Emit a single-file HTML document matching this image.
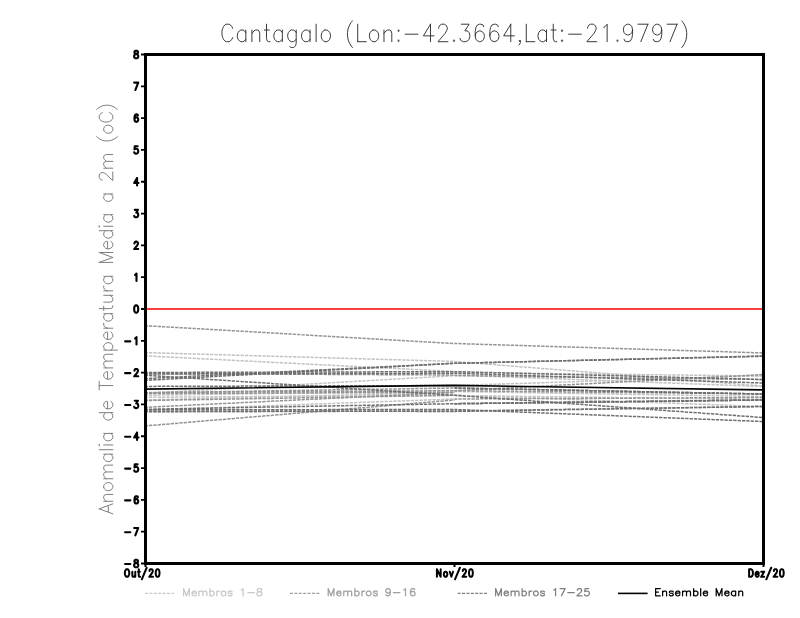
<!DOCTYPE html><html><head><meta charset="utf-8"><style>html,body{margin:0;padding:0;background:#fff;}svg{display:block}</style></head><body>
<svg width="800" height="618" viewBox="0 0 800 618">
<rect width="800" height="618" fill="#fff"/>
<g fill="none" stroke-width="1.5" stroke-dasharray="3.3 1.066">
<path d="M145.5 352.6 L454.5 361.5" stroke="#c2c2c2" stroke-dashoffset="0.92"/>
<path d="M145.5 355.9 L454.5 371.5" stroke="#c2c2c2" stroke-dashoffset="0.92"/>
<path d="M145.5 393.4 L454.5 375.6" stroke="#c2c2c2" stroke-dashoffset="0.92"/>
<path d="M145.5 395.3 L454.5 390.7" stroke="#c2c2c2" stroke-dashoffset="0.92"/>
<path d="M145.5 397.3 L454.5 395.3" stroke="#c2c2c2" stroke-dashoffset="0.92"/>
<path d="M145.5 410.2 L454.5 399.0" stroke="#c2c2c2" stroke-dashoffset="0.92"/>
<path d="M145.5 400.0 L454.5 392.4" stroke="#c2c2c2" stroke-dashoffset="0.92"/>
<path d="M454.5 361.5 L762.5 386.0" stroke="#c2c2c2" stroke-dashoffset="0.5"/>
<path d="M454.5 375.0 L762.5 386.5" stroke="#c2c2c2" stroke-dashoffset="0.5"/>
<path d="M454.5 385.5 L762.5 375.7" stroke="#c2c2c2" stroke-dashoffset="0.5"/>
<path d="M454.5 372.5 L762.5 376.0" stroke="#c2c2c2" stroke-dashoffset="0.5"/>
<path d="M454.5 391.5 L762.5 396.5" stroke="#c2c2c2" stroke-dashoffset="0.5"/>
<path d="M454.5 395.3 L762.5 406.5" stroke="#c2c2c2" stroke-dashoffset="0.5"/>
<path d="M454.5 395.5 L762.5 399.5" stroke="#c2c2c2" stroke-dashoffset="0.5"/>
<path d="M145.5 325.7 L454.5 343.5" stroke="#939393" stroke-dashoffset="0.92"/>
<path d="M145.5 373.5 L454.5 375.0" stroke="#939393" stroke-dashoffset="0.92"/>
<path d="M145.5 392.5 L454.5 390.7" stroke="#939393" stroke-dashoffset="0.92"/>
<path d="M145.5 393.5 L454.5 392.4" stroke="#939393" stroke-dashoffset="0.92"/>
<path d="M145.5 400.5 L454.5 395.3" stroke="#939393" stroke-dashoffset="0.92"/>
<path d="M145.5 407.3 L454.5 392.4" stroke="#939393" stroke-dashoffset="0.92"/>
<path d="M145.5 425.9 L454.5 400.0" stroke="#939393" stroke-dashoffset="0.92"/>
<path d="M145.5 412.0 L454.5 411.0" stroke="#939393" stroke-dashoffset="0.92"/>
<path d="M145.5 392.8 L454.5 388.0" stroke="#939393" stroke-dashoffset="0.92"/>
<path d="M454.5 343.5 L762.5 352.9" stroke="#939393" stroke-dashoffset="0.5"/>
<path d="M454.5 390.7 L762.5 374.6" stroke="#939393" stroke-dashoffset="0.5"/>
<path d="M454.5 390.7 L762.5 394.0" stroke="#939393" stroke-dashoffset="0.5"/>
<path d="M454.5 399.0 L762.5 397.5" stroke="#939393" stroke-dashoffset="0.5"/>
<path d="M454.5 375.6 L762.5 379.5" stroke="#939393" stroke-dashoffset="0.5"/>
<path d="M454.5 411.0 L762.5 406.5" stroke="#939393" stroke-dashoffset="0.5"/>
<path d="M454.5 403.7 L762.5 400.0" stroke="#939393" stroke-dashoffset="0.5"/>
<path d="M145.5 378.6 L454.5 363.3" stroke="#6e6e6e" stroke-dashoffset="0.92"/>
<path d="M145.5 380.3 L454.5 363.3" stroke="#6e6e6e" stroke-dashoffset="0.92"/>
<path d="M145.5 372.5 L454.5 371.65" stroke="#6e6e6e" stroke-dashoffset="0.92"/>
<path d="M145.5 374.0 L454.5 373.3" stroke="#6e6e6e" stroke-dashoffset="0.92"/>
<path d="M145.5 375.3 L454.5 395.3" stroke="#6e6e6e" stroke-dashoffset="0.92"/>
<path d="M145.5 386.4 L454.5 385.5" stroke="#6e6e6e" stroke-dashoffset="0.92"/>
<path d="M145.5 409.3 L454.5 403.7" stroke="#6e6e6e" stroke-dashoffset="0.92"/>
<path d="M145.5 409.8 L454.5 409.5" stroke="#6e6e6e" stroke-dashoffset="0.92"/>
<path d="M145.5 411.2 L454.5 411.4" stroke="#6e6e6e" stroke-dashoffset="0.92"/>
<path d="M454.5 363.3 L762.5 356.0" stroke="#6e6e6e" stroke-dashoffset="0.5"/>
<path d="M454.5 363.3 L762.5 356.3" stroke="#6e6e6e" stroke-dashoffset="0.5"/>
<path d="M454.5 371.65 L762.5 379.5" stroke="#6e6e6e" stroke-dashoffset="0.5"/>
<path d="M454.5 373.3 L762.5 383.0" stroke="#6e6e6e" stroke-dashoffset="0.5"/>
<path d="M454.5 395.3 L762.5 417.5" stroke="#6e6e6e" stroke-dashoffset="0.5"/>
<path d="M454.5 409.5 L762.5 421.5" stroke="#6e6e6e" stroke-dashoffset="0.5"/>
<path d="M454.5 411.4 L762.5 406.5" stroke="#6e6e6e" stroke-dashoffset="0.5"/>
<path d="M454.5 403.7 L762.5 400.0" stroke="#6e6e6e" stroke-dashoffset="0.5"/>
<path d="M454.5 388.0 L762.5 394.0" stroke="#6e6e6e" stroke-dashoffset="0.5"/>
<path d="M454.5 403.7 L762.5 400.0" stroke="#6e6e6e" stroke-dashoffset="0.5"/>
<path d="M454.5 388.0 L762.5 394.0" stroke="#6e6e6e" stroke-dashoffset="0.5"/>
</g>
<path d="M146 309 L762 309" stroke="#fa3c3c" stroke-width="2" fill="none"/>
<path d="M145.5 389.1 L454.5 385.4 L762.5 389.9" stroke="#000" stroke-width="1.6" fill="none"/>
<rect x="145.5" y="54.5" width="618" height="509" fill="none" stroke="#000" stroke-width="3"/>
<path d="M141 54.5 L146 54.5 M141 86.31 L146 86.31 M141 118.12 L146 118.12 M141 149.94 L146 149.94 M141 181.75 L146 181.75 M141 213.56 L146 213.56 M141 245.38 L146 245.38 M141 277.19 L146 277.19 M141 309 L146 309 M141 340.81 L146 340.81 M141 372.62 L146 372.62 M141 404.44 L146 404.44 M141 436.25 L146 436.25 M141 468.06 L146 468.06 M141 499.88 L146 499.88 M141 531.69 L146 531.69 M141 563.5 L146 563.5" stroke="#000" stroke-width="1.8" fill="none"/>
<path d="M145.5 563 L145.5 567 M454.5 563 L454.5 567 M763.5 563 L763.5 567" stroke="#000" stroke-width="2" fill="none"/>
<path d="M232.65 28.37 L231.94 26.7 L230.52 25.03 L229.1 24.2 L226.26 24.2 L224.84 25.03 L223.42 26.7 L222.71 28.37 L222 30.87 L222 35.03 L222.71 37.53 L223.42 39.2 L224.84 40.87 L226.26 41.7 L229.1 41.7 L230.52 40.87 L231.94 39.2 L232.65 37.53 M245.84 30.03 L245.84 41.7 M245.84 32.53 L244.42 30.87 L243 30.03 L240.87 30.03 L239.45 30.87 L238.03 32.53 L237.32 35.03 L237.32 36.7 L238.03 39.2 L239.45 40.87 L240.87 41.7 L243 41.7 L244.42 40.87 L245.84 39.2 M251.9 30.03 L251.9 41.7 M251.9 33.37 L254.03 30.87 L255.45 30.03 L257.58 30.03 L259 30.87 L259.71 33.37 L259.71 41.7 M266.47 24.2 L266.47 38.37 L267.18 40.87 L268.6 41.7 L270.02 41.7 M264.34 30.03 L269.31 30.03 M282.33 30.03 L282.33 41.7 M282.33 32.53 L280.91 30.87 L279.49 30.03 L277.36 30.03 L275.94 30.87 L274.52 32.53 L273.81 35.03 L273.81 36.7 L274.52 39.2 L275.94 40.87 L277.36 41.7 L279.49 41.7 L280.91 40.87 L282.33 39.2 M296.2 30.03 L296.2 43.37 L295.49 45.87 L294.78 46.7 L293.36 47.53 L291.23 47.53 L289.81 46.7 M296.2 32.53 L294.78 30.87 L293.36 30.03 L291.23 30.03 L289.81 30.87 L288.39 32.53 L287.68 35.03 L287.68 36.7 L288.39 39.2 L289.81 40.87 L291.23 41.7 L293.36 41.7 L294.78 40.87 L296.2 39.2 M310.06 30.03 L310.06 41.7 M310.06 32.53 L308.64 30.87 L307.22 30.03 L305.09 30.03 L303.67 30.87 L302.25 32.53 L301.54 35.03 L301.54 36.7 L302.25 39.2 L303.67 40.87 L305.09 41.7 L307.22 41.7 L308.64 40.87 L310.06 39.2 M316.12 24.2 L316.12 41.7 M324.79 30.03 L323.37 30.87 L321.95 32.53 L321.24 35.03 L321.24 36.7 L321.95 39.2 L323.37 40.87 L324.79 41.7 L326.92 41.7 L328.34 40.87 L329.76 39.2 L330.47 36.7 L330.47 35.03 L329.76 32.53 L328.34 30.87 L326.92 30.03 L324.79 30.03 M352.46 20.87 L351.04 22.53 L349.62 25.03 L348.2 28.37 L347.49 32.53 L347.49 35.87 L348.2 40.03 L349.62 43.37 L351.04 45.87 L352.46 47.53 M357.71 24.2 L357.71 41.7 M357.71 41.7 L366.23 41.7 M372.96 30.03 L371.54 30.87 L370.12 32.53 L369.41 35.03 L369.41 36.7 L370.12 39.2 L371.54 40.87 L372.96 41.7 L375.09 41.7 L376.51 40.87 L377.93 39.2 L378.64 36.7 L378.64 35.03 L377.93 32.53 L376.51 30.87 L375.09 30.03 L372.96 30.03 M383.98 30.03 L383.98 41.7 M383.98 33.37 L386.11 30.87 L387.53 30.03 L389.66 30.03 L391.08 30.87 L391.79 33.37 L391.79 41.7 M398.56 30.03 L397.85 30.87 L398.56 31.7 L399.27 30.87 L398.56 30.03 M398.56 40.03 L397.85 40.87 L398.56 41.7 L399.27 40.87 L398.56 40.03 M405.14 34.2 L417.92 34.2 M430.51 24.2 L423.41 35.87 L434.06 35.87 M430.51 24.2 L430.51 41.7 M438.71 28.37 L438.71 27.53 L439.42 25.87 L440.13 25.03 L441.55 24.2 L444.39 24.2 L445.81 25.03 L446.52 25.87 L447.23 27.53 L447.23 29.2 L446.52 30.87 L445.1 33.37 L438 41.7 L447.94 41.7 M454.01 40.03 L453.3 40.87 L454.01 41.7 L454.72 40.87 L454.01 40.03 M461.31 24.2 L469.12 24.2 L464.86 30.87 L466.99 30.87 L468.41 31.7 L469.12 32.53 L469.83 35.03 L469.83 36.7 L469.12 39.2 L467.7 40.87 L465.57 41.7 L463.44 41.7 L461.31 40.87 L460.6 40.03 L459.89 38.37 M483.72 26.7 L483.01 25.03 L480.88 24.2 L479.46 24.2 L477.33 25.03 L475.91 27.53 L475.2 31.7 L475.2 35.87 L475.91 39.2 L477.33 40.87 L479.46 41.7 L480.17 41.7 L482.3 40.87 L483.72 39.2 L484.43 36.7 L484.43 35.87 L483.72 33.37 L482.3 31.7 L480.17 30.87 L479.46 30.87 L477.33 31.7 L475.91 33.37 L475.2 35.87 M498.31 26.7 L497.6 25.03 L495.47 24.2 L494.05 24.2 L491.92 25.03 L490.5 27.53 L489.79 31.7 L489.79 35.87 L490.5 39.2 L491.92 40.87 L494.05 41.7 L494.76 41.7 L496.89 40.87 L498.31 39.2 L499.02 36.7 L499.02 35.87 L498.31 33.37 L496.89 31.7 L494.76 30.87 L494.05 30.87 L491.92 31.7 L490.5 33.37 L489.79 35.87 M510.78 24.2 L503.68 35.87 L514.33 35.87 M510.78 24.2 L510.78 41.7 M520.4 40.87 L519.69 41.7 L518.98 40.87 L519.69 40.03 L520.4 40.87 L520.4 42.53 L519.69 44.2 L518.98 45.03 M526.28 24.2 L526.28 41.7 M526.28 41.7 L534.8 41.7 M546.49 30.03 L546.49 41.7 M546.49 32.53 L545.07 30.87 L543.65 30.03 L541.52 30.03 L540.1 30.87 L538.68 32.53 L537.97 35.03 L537.97 36.7 L538.68 39.2 L540.1 40.87 L541.52 41.7 L543.65 41.7 L545.07 40.87 L546.49 39.2 M553.26 24.2 L553.26 38.37 L553.97 40.87 L555.39 41.7 L556.81 41.7 M551.13 30.03 L556.1 30.03 M562.01 30.03 L561.3 30.87 L562.01 31.7 L562.72 30.87 L562.01 30.03 M562.01 40.03 L561.3 40.87 L562.01 41.7 L562.72 40.87 L562.01 40.03 M568.6 34.2 L581.38 34.2 M587.58 28.37 L587.58 27.53 L588.29 25.87 L589 25.03 L590.42 24.2 L593.26 24.2 L594.68 25.03 L595.39 25.87 L596.1 27.53 L596.1 29.2 L595.39 30.87 L593.97 33.37 L586.87 41.7 L596.81 41.7 M603.59 27.53 L605.01 26.7 L607.14 24.2 L607.14 41.7 M617.47 40.03 L616.76 40.87 L617.47 41.7 L618.18 40.87 L617.47 40.03 M632.58 30.03 L631.87 32.53 L630.45 34.2 L628.32 35.03 L627.61 35.03 L625.48 34.2 L624.06 32.53 L623.35 30.03 L623.35 29.2 L624.06 26.7 L625.48 25.03 L627.61 24.2 L628.32 24.2 L630.45 25.03 L631.87 26.7 L632.58 30.03 L632.58 34.2 L631.87 38.37 L630.45 40.87 L628.32 41.7 L626.9 41.7 L624.77 40.87 L624.06 39.2 M647.89 24.2 L640.79 41.7 M637.95 24.2 L647.89 24.2 M661.77 30.03 L661.06 32.53 L659.64 34.2 L657.51 35.03 L656.8 35.03 L654.67 34.2 L653.25 32.53 L652.54 30.03 L652.54 29.2 L653.25 26.7 L654.67 25.03 L656.8 24.2 L657.51 24.2 L659.64 25.03 L661.06 26.7 L661.77 30.03 L661.77 34.2 L661.06 38.37 L659.64 40.87 L657.51 41.7 L656.09 41.7 L653.96 40.87 L653.25 39.2 M677.08 24.2 L669.98 41.7 M667.14 24.2 L677.08 24.2 M681.73 20.87 L683.15 22.53 L684.57 25.03 L685.99 28.37 L686.7 32.53 L686.7 35.87 L685.99 40.03 L684.57 43.37 L683.15 45.87 L681.73 47.53" fill="none" stroke="#303030" stroke-width="0.95" stroke-linecap="round" stroke-linejoin="round"/>
<path d="M135.62 50.8 L134.75 51.15 L134.46 51.86 L134.46 52.56 L134.75 53.27 L135.33 53.62 L136.49 53.97 L137.36 54.32 L137.94 55.03 L138.23 55.73 L138.23 56.79 L137.94 57.5 L137.65 57.85 L136.78 58.2 L135.62 58.2 L134.75 57.85 L134.46 57.5 L134.17 56.79 L134.17 55.73 L134.46 55.03 L135.04 54.32 L135.91 53.97 L137.07 53.62 L137.65 53.27 L137.94 52.56 L137.94 51.86 L137.65 51.15 L136.78 50.8 L135.62 50.8" fill="none" stroke="#000" stroke-width="2.1" stroke-linecap="round" stroke-linejoin="round"/>
<path d="M138.23 82.61 L135.33 90.01 M134.17 82.61 L138.23 82.61" fill="none" stroke="#000" stroke-width="2.1" stroke-linecap="round" stroke-linejoin="round"/>
<path d="M137.94 115.48 L137.65 114.78 L136.78 114.42 L136.2 114.42 L135.33 114.78 L134.75 115.83 L134.46 117.6 L134.46 119.36 L134.75 120.77 L135.33 121.47 L136.2 121.83 L136.49 121.83 L137.36 121.47 L137.94 120.77 L138.23 119.71 L138.23 119.36 L137.94 118.3 L137.36 117.6 L136.49 117.24 L136.2 117.24 L135.33 117.6 L134.75 118.3 L134.46 119.36" fill="none" stroke="#000" stroke-width="2.1" stroke-linecap="round" stroke-linejoin="round"/>
<path d="M137.65 146.24 L134.75 146.24 L134.46 149.41 L134.75 149.06 L135.62 148.7 L136.49 148.7 L137.36 149.06 L137.94 149.76 L138.23 150.82 L138.23 151.52 L137.94 152.58 L137.36 153.29 L136.49 153.64 L135.62 153.64 L134.75 153.29 L134.46 152.93 L134.17 152.23" fill="none" stroke="#000" stroke-width="2.1" stroke-linecap="round" stroke-linejoin="round"/>
<path d="M137.07 178.05 L134.17 182.98 L138.52 182.98 M137.07 178.05 L137.07 185.45" fill="none" stroke="#000" stroke-width="2.1" stroke-linecap="round" stroke-linejoin="round"/>
<path d="M134.75 209.86 L137.94 209.86 L136.2 212.68 L137.07 212.68 L137.65 213.03 L137.94 213.39 L138.23 214.44 L138.23 215.15 L137.94 216.21 L137.36 216.91 L136.49 217.26 L135.62 217.26 L134.75 216.91 L134.46 216.56 L134.17 215.85" fill="none" stroke="#000" stroke-width="2.1" stroke-linecap="round" stroke-linejoin="round"/>
<path d="M134.46 243.44 L134.46 243.08 L134.75 242.38 L135.04 242.03 L135.62 241.67 L136.78 241.67 L137.36 242.03 L137.65 242.38 L137.94 243.08 L137.94 243.79 L137.65 244.49 L137.07 245.55 L134.17 249.07 L138.23 249.07" fill="none" stroke="#000" stroke-width="2.1" stroke-linecap="round" stroke-linejoin="round"/>
<path d="M135.04 274.9 L135.62 274.54 L136.49 273.49 L136.49 280.89" fill="none" stroke="#000" stroke-width="2.1" stroke-linecap="round" stroke-linejoin="round"/>
<path d="M135.91 305.3 L135.04 305.65 L134.46 306.71 L134.17 308.47 L134.17 309.53 L134.46 311.29 L135.04 312.35 L135.91 312.7 L136.49 312.7 L137.36 312.35 L137.94 311.29 L138.23 309.53 L138.23 308.47 L137.94 306.71 L137.36 305.65 L136.49 305.3 L135.91 305.3" fill="none" stroke="#000" stroke-width="2.1" stroke-linecap="round" stroke-linejoin="round"/>
<path d="M125.1 341.34 L130.32 341.34 M135.04 338.52 L135.62 338.17 L136.49 337.11 L136.49 344.51" fill="none" stroke="#000" stroke-width="2.1" stroke-linecap="round" stroke-linejoin="round"/>
<path d="M125.1 373.15 L130.32 373.15 M134.46 370.69 L134.46 370.33 L134.75 369.63 L135.04 369.28 L135.62 368.93 L136.78 368.93 L137.36 369.28 L137.65 369.63 L137.94 370.33 L137.94 371.04 L137.65 371.74 L137.07 372.8 L134.17 376.32 L138.23 376.32" fill="none" stroke="#000" stroke-width="2.1" stroke-linecap="round" stroke-linejoin="round"/>
<path d="M125.1 404.97 L130.32 404.97 M134.75 400.74 L137.94 400.74 L136.2 403.56 L137.07 403.56 L137.65 403.91 L137.94 404.26 L138.23 405.32 L138.23 406.02 L137.94 407.08 L137.36 407.79 L136.49 408.14 L135.62 408.14 L134.75 407.79 L134.46 407.43 L134.17 406.73" fill="none" stroke="#000" stroke-width="2.1" stroke-linecap="round" stroke-linejoin="round"/>
<path d="M125.1 436.78 L130.32 436.78 M137.07 432.55 L134.17 437.48 L138.52 437.48 M137.07 432.55 L137.07 439.95" fill="none" stroke="#000" stroke-width="2.1" stroke-linecap="round" stroke-linejoin="round"/>
<path d="M125.1 468.59 L130.32 468.59 M137.65 464.36 L134.75 464.36 L134.46 467.53 L134.75 467.18 L135.62 466.83 L136.49 466.83 L137.36 467.18 L137.94 467.89 L138.23 468.94 L138.23 469.65 L137.94 470.71 L137.36 471.41 L136.49 471.76 L135.62 471.76 L134.75 471.41 L134.46 471.06 L134.17 470.35" fill="none" stroke="#000" stroke-width="2.1" stroke-linecap="round" stroke-linejoin="round"/>
<path d="M125.1 500.4 L130.32 500.4 M137.94 497.23 L137.65 496.53 L136.78 496.18 L136.2 496.18 L135.33 496.53 L134.75 497.58 L134.46 499.35 L134.46 501.11 L134.75 502.52 L135.33 503.22 L136.2 503.57 L136.49 503.57 L137.36 503.22 L137.94 502.52 L138.23 501.46 L138.23 501.11 L137.94 500.05 L137.36 499.35 L136.49 498.99 L136.2 498.99 L135.33 499.35 L134.75 500.05 L134.46 501.11" fill="none" stroke="#000" stroke-width="2.1" stroke-linecap="round" stroke-linejoin="round"/>
<path d="M125.1 532.22 L130.32 532.22 M138.23 527.99 L135.33 535.39 M134.17 527.99 L138.23 527.99" fill="none" stroke="#000" stroke-width="2.1" stroke-linecap="round" stroke-linejoin="round"/>
<path d="M125.1 564.03 L130.32 564.03 M135.62 559.8 L134.75 560.15 L134.46 560.86 L134.46 561.56 L134.75 562.27 L135.33 562.62 L136.49 562.97 L137.36 563.32 L137.94 564.03 L138.23 564.73 L138.23 565.79 L137.94 566.5 L137.65 566.85 L136.78 567.2 L135.62 567.2 L134.75 566.85 L134.46 566.5 L134.17 565.79 L134.17 564.73 L134.46 564.03 L135.04 563.32 L135.91 562.97 L137.07 562.62 L137.65 562.27 L137.94 561.56 L137.94 560.86 L137.65 560.15 L136.78 559.8 L135.62 559.8" fill="none" stroke="#000" stroke-width="2.1" stroke-linecap="round" stroke-linejoin="round"/>
<path d="M126.52 569.2 L125.98 569.56 L125.44 570.29 L125.17 571.01 L124.9 572.1 L124.9 573.9 L125.17 574.99 L125.44 575.71 L125.98 576.44 L126.52 576.8 L127.6 576.8 L128.14 576.44 L128.68 575.71 L128.95 574.99 L129.22 573.9 L129.22 572.1 L128.95 571.01 L128.68 570.29 L128.14 569.56 L127.6 569.2 L126.52 569.2 M132.31 571.73 L132.31 575.35 L132.58 576.44 L133.12 576.8 L133.93 576.8 L134.47 576.44 L135.28 575.35 M135.28 571.73 L135.28 576.8 M138.74 569.2 L138.74 575.35 L139.01 576.44 L139.55 576.8 L140.09 576.8 M137.93 571.73 L139.82 571.73 M146.68 567.75 L141.82 579.33 M149.5 571.01 L149.5 570.65 L149.77 569.92 L150.04 569.56 L150.58 569.2 L151.66 569.2 L152.2 569.56 L152.47 569.92 L152.74 570.65 L152.74 571.37 L152.47 572.1 L151.93 573.18 L149.23 576.8 L153.01 576.8 M157.34 569.2 L156.53 569.56 L155.99 570.65 L155.72 572.46 L155.72 573.54 L155.99 575.35 L156.53 576.44 L157.34 576.8 L157.88 576.8 L158.69 576.44 L159.23 575.35 L159.5 573.54 L159.5 572.46 L159.23 570.65 L158.69 569.56 L157.88 569.2 L157.34 569.2" fill="none" stroke="#000" stroke-width="2.0" stroke-linecap="round" stroke-linejoin="round"/>
<path d="M436.9 569.2 L436.9 576.8 M436.9 569.2 L440.68 576.8 M440.68 569.2 L440.68 576.8 M445.18 571.73 L444.64 572.1 L444.1 572.82 L443.83 573.9 L443.83 574.63 L444.1 575.71 L444.64 576.44 L445.18 576.8 L445.99 576.8 L446.53 576.44 L447.07 575.71 L447.34 574.63 L447.34 573.9 L447.07 572.82 L446.53 572.1 L445.99 571.73 L445.18 571.73 M449.77 571.73 L451.39 576.8 M453.01 571.73 L451.39 576.8 M459.87 567.75 L455.01 579.33 M462.75 571.01 L462.75 570.65 L463.02 569.92 L463.29 569.56 L463.83 569.2 L464.91 569.2 L465.45 569.56 L465.72 569.92 L465.99 570.65 L465.99 571.37 L465.72 572.1 L465.18 573.18 L462.48 576.8 L466.26 576.8 M470.64 569.2 L469.83 569.56 L469.29 570.65 L469.02 572.46 L469.02 573.54 L469.29 575.35 L469.83 576.44 L470.64 576.8 L471.18 576.8 L471.99 576.44 L472.53 575.35 L472.8 573.54 L472.8 572.46 L472.53 570.65 L471.99 569.56 L471.18 569.2 L470.64 569.2" fill="none" stroke="#000" stroke-width="2.0" stroke-linecap="round" stroke-linejoin="round"/>
<path d="M749.1 569.2 L749.1 576.8 M749.1 569.2 L750.99 569.2 L751.8 569.56 L752.34 570.29 L752.61 571.01 L752.88 572.1 L752.88 573.9 L752.61 574.99 L752.34 575.71 L751.8 576.44 L750.99 576.8 L749.1 576.8 M755.49 573.9 L758.73 573.9 L758.73 573.18 L758.46 572.46 L758.19 572.1 L757.65 571.73 L756.84 571.73 L756.3 572.1 L755.76 572.82 L755.49 573.9 L755.49 574.63 L755.76 575.71 L756.3 576.44 L756.84 576.8 L757.65 576.8 L758.19 576.44 L758.73 575.71 M764.17 571.73 L761.2 576.8 M761.2 571.73 L764.17 571.73 M761.2 576.8 L764.17 576.8 M771.19 567.75 L766.33 579.33 M773.85 571.01 L773.85 570.65 L774.12 569.92 L774.39 569.56 L774.93 569.2 L776.01 569.2 L776.55 569.56 L776.82 569.92 L777.09 570.65 L777.09 571.37 L776.82 572.1 L776.28 573.18 L773.58 576.8 L777.36 576.8 M781.54 569.2 L780.73 569.56 L780.19 570.65 L779.92 572.46 L779.92 573.54 L780.19 575.35 L780.73 576.44 L781.54 576.8 L782.08 576.8 L782.89 576.44 L783.43 575.35 L783.7 573.54 L783.7 572.46 L783.43 570.65 L782.89 569.56 L782.08 569.2 L781.54 569.2" fill="none" stroke="#000" stroke-width="2.0" stroke-linecap="round" stroke-linejoin="round"/>
<path d="M4.96 -13.6 L0 0 M4.96 -13.6 L9.92 0 M1.86 -4.53 L8.06 -4.53 M12.53 -9.07 L12.53 0 M12.53 -6.48 L14.39 -8.42 L15.63 -9.07 L17.49 -9.07 L18.73 -8.42 L19.35 -6.48 L19.35 0 M26.27 -9.07 L25.03 -8.42 L23.79 -7.12 L23.17 -5.18 L23.17 -3.89 L23.79 -1.94 L25.03 -0.65 L26.27 0 L28.13 0 L29.37 -0.65 L30.61 -1.94 L31.23 -3.89 L31.23 -5.18 L30.61 -7.12 L29.37 -8.42 L28.13 -9.07 L26.27 -9.07 M35.05 -9.07 L35.05 0 M35.05 -6.48 L36.91 -8.42 L38.15 -9.07 L40.01 -9.07 L41.25 -8.42 L41.87 -6.48 L41.87 0 M41.87 -6.48 L43.73 -8.42 L44.97 -9.07 L46.83 -9.07 L48.07 -8.42 L48.69 -6.48 L48.69 0 M59.65 -9.07 L59.65 0 M59.65 -7.12 L58.41 -8.42 L57.17 -9.07 L55.31 -9.07 L54.07 -8.42 L52.83 -7.12 L52.21 -5.18 L52.21 -3.89 L52.83 -1.94 L54.07 -0.65 L55.31 0 L57.17 0 L58.41 -0.65 L59.65 -1.94 M64.09 -13.6 L64.09 0 M68.21 -13.6 L68.83 -12.95 L69.45 -13.6 L68.83 -14.25 L68.21 -13.6 M68.83 -9.07 L68.83 0 M80.39 -9.07 L80.39 0 M80.39 -7.12 L79.15 -8.42 L77.91 -9.07 L76.05 -9.07 L74.81 -8.42 L73.57 -7.12 L72.95 -5.18 L72.95 -3.89 L73.57 -1.94 L74.81 -0.65 L76.05 0 L77.91 0 L79.15 -0.65 L80.39 -1.94 M101.14 -13.6 L101.14 0 M101.14 -7.12 L99.9 -8.42 L98.66 -9.07 L96.8 -9.07 L95.56 -8.42 L94.32 -7.12 L93.7 -5.18 L93.7 -3.89 L94.32 -1.94 L95.56 -0.65 L96.8 0 L98.66 0 L99.9 -0.65 L101.14 -1.94 M104.96 -5.18 L112.4 -5.18 L112.4 -6.48 L111.78 -7.77 L111.16 -8.42 L109.92 -9.07 L108.06 -9.07 L106.82 -8.42 L105.58 -7.12 L104.96 -5.18 L104.96 -3.89 L105.58 -1.94 L106.82 -0.65 L108.06 0 L109.92 0 L111.16 -0.65 L112.4 -1.94 M128.21 -13.6 L128.21 0 M123.87 -13.6 L132.55 -13.6 M134.59 -5.18 L142.03 -5.18 L142.03 -6.48 L141.41 -7.77 L140.79 -8.42 L139.55 -9.07 L137.69 -9.07 L136.45 -8.42 L135.21 -7.12 L134.59 -5.18 L134.59 -3.89 L135.21 -1.94 L136.45 -0.65 L137.69 0 L139.55 0 L140.79 -0.65 L142.03 -1.94 M145.88 -9.07 L145.88 0 M145.88 -6.48 L147.74 -8.42 L148.98 -9.07 L150.84 -9.07 L152.08 -8.42 L152.7 -6.48 L152.7 0 M152.7 -6.48 L154.56 -8.42 L155.8 -9.07 L157.66 -9.07 L158.9 -8.42 L159.52 -6.48 L159.52 0 M163.66 -9.07 L163.66 4.53 M163.66 -7.12 L164.9 -8.42 L166.14 -9.07 L168 -9.07 L169.24 -8.42 L170.48 -7.12 L171.1 -5.18 L171.1 -3.89 L170.48 -1.94 L169.24 -0.65 L168 0 L166.14 0 L164.9 -0.65 L163.66 -1.94 M174.3 -5.18 L181.74 -5.18 L181.74 -6.48 L181.12 -7.77 L180.5 -8.42 L179.26 -9.07 L177.4 -9.07 L176.16 -8.42 L174.92 -7.12 L174.3 -5.18 L174.3 -3.89 L174.92 -1.94 L176.16 -0.65 L177.4 0 L179.26 0 L180.5 -0.65 L181.74 -1.94 M185.59 -9.07 L185.59 0 M185.59 -5.18 L186.21 -7.12 L187.45 -8.42 L188.69 -9.07 L190.55 -9.07 M200.11 -9.07 L200.11 0 M200.11 -7.12 L198.87 -8.42 L197.63 -9.07 L195.77 -9.07 L194.53 -8.42 L193.29 -7.12 L192.67 -5.18 L192.67 -3.89 L193.29 -1.94 L194.53 -0.65 L195.77 0 L197.63 0 L198.87 -0.65 L200.11 -1.94 M205.18 -13.6 L205.18 -2.59 L205.8 -0.65 L207.04 0 L208.28 0 M203.32 -9.07 L207.66 -9.07 M211.67 -9.07 L211.67 -2.59 L212.29 -0.65 L213.53 0 L215.39 0 L216.63 -0.65 L218.49 -2.59 M218.49 -9.07 L218.49 0 M222.93 -9.07 L222.93 0 M222.93 -5.18 L223.55 -7.12 L224.79 -8.42 L226.03 -9.07 L227.89 -9.07 M237.45 -9.07 L237.45 0 M237.45 -7.12 L236.21 -8.42 L234.97 -9.07 L233.11 -9.07 L231.87 -8.42 L230.63 -7.12 L230.01 -5.18 L230.01 -3.89 L230.63 -1.94 L231.87 -0.65 L233.11 0 L234.97 0 L236.21 -0.65 L237.45 -1.94 M251.38 -13.6 L251.38 0 M251.38 -13.6 L256.34 0 M261.3 -13.6 L256.34 0 M261.3 -13.6 L261.3 0 M264.98 -5.18 L272.42 -5.18 L272.42 -6.48 L271.8 -7.77 L271.18 -8.42 L269.94 -9.07 L268.08 -9.07 L266.84 -8.42 L265.6 -7.12 L264.98 -5.18 L264.98 -3.89 L265.6 -1.94 L266.84 -0.65 L268.08 0 L269.94 0 L271.18 -0.65 L272.42 -1.94 M283.09 -13.6 L283.09 0 M283.09 -7.12 L281.85 -8.42 L280.61 -9.07 L278.75 -9.07 L277.51 -8.42 L276.27 -7.12 L275.65 -5.18 L275.65 -3.89 L276.27 -1.94 L277.51 -0.65 L278.75 0 L280.61 0 L281.85 -0.65 L283.09 -1.94 M286.91 -13.6 L287.53 -12.95 L288.15 -13.6 L287.53 -14.25 L286.91 -13.6 M287.53 -9.07 L287.53 0 M299.09 -9.07 L299.09 0 M299.09 -7.12 L297.85 -8.42 L296.61 -9.07 L294.75 -9.07 L293.51 -8.42 L292.27 -7.12 L291.65 -5.18 L291.65 -3.89 L292.27 -1.94 L293.51 -0.65 L294.75 0 L296.61 0 L297.85 -0.65 L299.09 -1.94 M319.84 -9.07 L319.84 0 M319.84 -7.12 L318.6 -8.42 L317.36 -9.07 L315.5 -9.07 L314.26 -8.42 L313.02 -7.12 L312.4 -5.18 L312.4 -3.89 L313.02 -1.94 L314.26 -0.65 L315.5 0 L317.36 0 L318.6 -0.65 L319.84 -1.94 M333.76 -10.36 L333.76 -11.01 L334.38 -12.3 L335 -12.95 L336.24 -13.6 L338.72 -13.6 L339.96 -12.95 L340.58 -12.3 L341.2 -11.01 L341.2 -9.71 L340.58 -8.42 L339.34 -6.48 L333.14 0 L341.82 0 M345.61 -9.07 L345.61 0 M345.61 -6.48 L347.47 -8.42 L348.71 -9.07 L350.57 -9.07 L351.81 -8.42 L352.43 -6.48 L352.43 0 M352.43 -6.48 L354.29 -8.42 L355.53 -9.07 L357.39 -9.07 L358.63 -8.42 L359.25 -6.48 L359.25 0 M377.22 -16.19 L375.98 -14.9 L374.74 -12.95 L373.5 -10.36 L372.88 -7.12 L372.88 -4.53 L373.5 -1.3 L374.74 1.3 L375.98 3.24 L377.22 4.53 M383.65 -9.07 L382.41 -8.42 L381.17 -7.12 L380.55 -5.18 L380.55 -3.89 L381.17 -1.94 L382.41 -0.65 L383.65 0 L385.51 0 L386.75 -0.65 L387.99 -1.94 L388.61 -3.89 L388.61 -5.18 L387.99 -7.12 L386.75 -8.42 L385.51 -9.07 L383.65 -9.07 M401.11 -10.36 L400.49 -11.66 L399.25 -12.95 L398.01 -13.6 L395.53 -13.6 L394.29 -12.95 L393.05 -11.66 L392.43 -10.36 L391.81 -8.42 L391.81 -5.18 L392.43 -3.24 L393.05 -1.94 L394.29 -0.65 L395.53 0 L398.01 0 L399.25 -0.65 L400.49 -1.94 L401.11 -3.24 M404.26 -16.19 L405.5 -14.9 L406.74 -12.95 L407.98 -10.36 L408.6 -7.12 L408.6 -4.53 L407.98 -1.3 L406.74 1.3 L405.5 3.24 L404.26 4.53" transform="translate(112.8 513.8) rotate(-90)" fill="none" stroke="#7e7e7e" stroke-width="1.0" stroke-linecap="round" stroke-linejoin="round"/>
<path d="M145 593.4 L174 593.4" stroke="#c8c8c8" stroke-width="1.3" stroke-dasharray="3 1.4" fill="none"/>
<path d="M183.6 588.6 L183.6 595.8 M183.6 588.6 L186.48 595.8 M189.36 588.6 L186.48 595.8 M189.36 588.6 L189.36 595.8 M192 593.06 L196.32 593.06 L196.32 592.37 L195.96 591.69 L195.6 591.34 L194.88 591 L193.8 591 L193.08 591.34 L192.36 592.03 L192 593.06 L192 593.74 L192.36 594.77 L193.08 595.46 L193.8 595.8 L194.88 595.8 L195.6 595.46 L196.32 594.77 M198.93 591 L198.93 595.8 M198.93 592.37 L200.01 591.34 L200.73 591 L201.81 591 L202.53 591.34 L202.89 592.37 L202.89 595.8 M202.89 592.37 L203.97 591.34 L204.69 591 L205.77 591 L206.49 591.34 L206.85 592.37 L206.85 595.8 M209.88 588.6 L209.88 595.8 M209.88 592.03 L210.6 591.34 L211.32 591 L212.4 591 L213.12 591.34 L213.84 592.03 L214.2 593.06 L214.2 593.74 L213.84 594.77 L213.12 595.46 L212.4 595.8 L211.32 595.8 L210.6 595.46 L209.88 594.77 M216.81 591 L216.81 595.8 M216.81 593.06 L217.17 592.03 L217.89 591.34 L218.61 591 L219.69 591 M222.99 591 L222.27 591.34 L221.55 592.03 L221.19 593.06 L221.19 593.74 L221.55 594.77 L222.27 595.46 L222.99 595.8 L224.07 595.8 L224.79 595.46 L225.51 594.77 L225.87 593.74 L225.87 593.06 L225.51 592.03 L224.79 591.34 L224.07 591 L222.99 591 M232.09 592.03 L231.73 591.34 L230.65 591 L229.57 591 L228.49 591.34 L228.13 592.03 L228.49 592.71 L229.21 593.06 L231.01 593.4 L231.73 593.74 L232.09 594.43 L232.09 594.77 L231.73 595.46 L230.65 595.8 L229.57 595.8 L228.49 595.46 L228.13 594.77 M241.25 589.97 L241.97 589.63 L243.05 588.6 L243.05 595.8 M247.83 592.71 L254.31 592.71 M258.76 588.6 L257.68 588.94 L257.32 589.63 L257.32 590.31 L257.68 591 L258.4 591.34 L259.84 591.69 L260.92 592.03 L261.64 592.71 L262 593.4 L262 594.43 L261.64 595.11 L261.28 595.46 L260.2 595.8 L258.76 595.8 L257.68 595.46 L257.32 595.11 L256.96 594.43 L256.96 593.4 L257.32 592.71 L258.04 592.03 L259.12 591.69 L260.56 591.34 L261.28 591 L261.64 590.31 L261.64 589.63 L261.28 588.94 L260.2 588.6 L258.76 588.6" fill="none" stroke="#c8c8c8" stroke-width="1.25" stroke-linecap="round" stroke-linejoin="round"/>
<path d="M290 593.4 L320 593.4" stroke="#a0a0a0" stroke-width="1.3" stroke-dasharray="3 1.4" fill="none"/>
<path d="M328.2 588.6 L328.2 595.8 M328.2 588.6 L331.08 595.8 M333.96 588.6 L331.08 595.8 M333.96 588.6 L333.96 595.8 M336.73 593.06 L341.05 593.06 L341.05 592.37 L340.69 591.69 L340.33 591.34 L339.61 591 L338.53 591 L337.81 591.34 L337.09 592.03 L336.73 593.06 L336.73 593.74 L337.09 594.77 L337.81 595.46 L338.53 595.8 L339.61 595.8 L340.33 595.46 L341.05 594.77 M343.76 591 L343.76 595.8 M343.76 592.37 L344.84 591.34 L345.56 591 L346.64 591 L347.36 591.34 L347.72 592.37 L347.72 595.8 M347.72 592.37 L348.8 591.34 L349.52 591 L350.6 591 L351.32 591.34 L351.68 592.37 L351.68 595.8 M354.87 588.6 L354.87 595.8 M354.87 592.03 L355.59 591.34 L356.31 591 L357.39 591 L358.11 591.34 L358.83 592.03 L359.19 593.06 L359.19 593.74 L358.83 594.77 L358.11 595.46 L357.39 595.8 L356.31 595.8 L355.59 595.46 L354.87 594.77 M361.9 591 L361.9 595.8 M361.9 593.06 L362.26 592.03 L362.98 591.34 L363.7 591 L364.78 591 M368.16 591 L367.44 591.34 L366.72 592.03 L366.36 593.06 L366.36 593.74 L366.72 594.77 L367.44 595.46 L368.16 595.8 L369.24 595.8 L369.96 595.46 L370.68 594.77 L371.04 593.74 L371.04 593.06 L370.68 592.03 L369.96 591.34 L369.24 591 L368.16 591 M377.35 592.03 L376.99 591.34 L375.91 591 L374.83 591 L373.75 591.34 L373.39 592.03 L373.75 592.71 L374.47 593.06 L376.27 593.4 L376.99 593.74 L377.35 594.43 L377.35 594.77 L376.99 595.46 L375.91 595.8 L374.83 595.8 L373.75 595.46 L373.39 594.77 M390.3 591 L389.94 592.03 L389.22 592.71 L388.14 593.06 L387.78 593.06 L386.7 592.71 L385.98 592.03 L385.62 591 L385.62 590.66 L385.98 589.63 L386.7 588.94 L387.78 588.6 L388.14 588.6 L389.22 588.94 L389.94 589.63 L390.3 591 L390.3 592.71 L389.94 594.43 L389.22 595.46 L388.14 595.8 L387.42 595.8 L386.34 595.46 L385.98 594.77 M393.38 592.71 L399.86 592.71 M403.73 589.97 L404.45 589.63 L405.53 588.6 L405.53 595.8 M414.74 589.63 L414.38 588.94 L413.3 588.6 L412.58 588.6 L411.5 588.94 L410.78 589.97 L410.42 591.69 L410.42 593.4 L410.78 594.77 L411.5 595.46 L412.58 595.8 L412.94 595.8 L414.02 595.46 L414.74 594.77 L415.1 593.74 L415.1 593.4 L414.74 592.37 L414.02 591.69 L412.94 591.34 L412.58 591.34 L411.5 591.69 L410.78 592.37 L410.42 593.4" fill="none" stroke="#a0a0a0" stroke-width="1.25" stroke-linecap="round" stroke-linejoin="round"/>
<path d="M457.6 593.4 L487.6 593.4" stroke="#808080" stroke-width="1.3" stroke-dasharray="3 1.4" fill="none"/>
<path d="M495.6 588.6 L495.6 595.8 M495.6 588.6 L498.48 595.8 M501.36 588.6 L498.48 595.8 M501.36 588.6 L501.36 595.8 M504.08 593.06 L508.4 593.06 L508.4 592.37 L508.04 591.69 L507.68 591.34 L506.96 591 L505.88 591 L505.16 591.34 L504.44 592.03 L504.08 593.06 L504.08 593.74 L504.44 594.77 L505.16 595.46 L505.88 595.8 L506.96 595.8 L507.68 595.46 L508.4 594.77 M511.07 591 L511.07 595.8 M511.07 592.37 L512.15 591.34 L512.87 591 L513.95 591 L514.67 591.34 L515.03 592.37 L515.03 595.8 M515.03 592.37 L516.11 591.34 L516.83 591 L517.91 591 L518.63 591.34 L518.99 592.37 L518.99 595.8 M522.12 588.6 L522.12 595.8 M522.12 592.03 L522.84 591.34 L523.56 591 L524.64 591 L525.36 591.34 L526.08 592.03 L526.44 593.06 L526.44 593.74 L526.08 594.77 L525.36 595.46 L524.64 595.8 L523.56 595.8 L522.84 595.46 L522.12 594.77 M529.11 591 L529.11 595.8 M529.11 593.06 L529.47 592.03 L530.19 591.34 L530.91 591 L531.99 591 M535.34 591 L534.62 591.34 L533.9 592.03 L533.54 593.06 L533.54 593.74 L533.9 594.77 L534.62 595.46 L535.34 595.8 L536.42 595.8 L537.14 595.46 L537.86 594.77 L538.22 593.74 L538.22 593.06 L537.86 592.03 L537.14 591.34 L536.42 591 L535.34 591 M544.5 592.03 L544.14 591.34 L543.06 591 L541.98 591 L540.9 591.34 L540.54 592.03 L540.9 592.71 L541.62 593.06 L543.42 593.4 L544.14 593.74 L544.5 594.43 L544.5 594.77 L544.14 595.46 L543.06 595.8 L541.98 595.8 L540.9 595.46 L540.54 594.77 M553.77 589.97 L554.49 589.63 L555.57 588.6 L555.57 595.8 M565.09 588.6 L561.49 595.8 M560.05 588.6 L565.09 588.6 M567.78 592.71 L574.26 592.71 M577.35 590.31 L577.35 589.97 L577.71 589.29 L578.07 588.94 L578.79 588.6 L580.23 588.6 L580.95 588.94 L581.31 589.29 L581.67 589.97 L581.67 590.66 L581.31 591.34 L580.59 592.37 L576.99 595.8 L582.03 595.8 M588.68 588.6 L585.08 588.6 L584.72 591.69 L585.08 591.34 L586.16 591 L587.24 591 L588.32 591.34 L589.04 592.03 L589.4 593.06 L589.4 593.74 L589.04 594.77 L588.32 595.46 L587.24 595.8 L586.16 595.8 L585.08 595.46 L584.72 595.11 L584.36 594.43" fill="none" stroke="#808080" stroke-width="1.25" stroke-linecap="round" stroke-linejoin="round"/>
<path d="M618 593.4 L647.6 593.4" stroke="#000" stroke-width="1.6" fill="none"/>
<path d="M655.6 588.6 L655.6 595.8 M655.6 588.6 L660.28 588.6 M655.6 592.03 L658.48 592.03 M655.6 595.8 L660.28 595.8 M662.62 591 L662.62 595.8 M662.62 592.37 L663.7 591.34 L664.42 591 L665.5 591 L666.22 591.34 L666.58 592.37 L666.58 595.8 M673.24 592.03 L672.88 591.34 L671.8 591 L670.72 591 L669.64 591.34 L669.28 592.03 L669.64 592.71 L670.36 593.06 L672.16 593.4 L672.88 593.74 L673.24 594.43 L673.24 594.77 L672.88 595.46 L671.8 595.8 L670.72 595.8 L669.64 595.46 L669.28 594.77 M675.56 593.06 L679.88 593.06 L679.88 592.37 L679.52 591.69 L679.16 591.34 L678.44 591 L677.36 591 L676.64 591.34 L675.92 592.03 L675.56 593.06 L675.56 593.74 L675.92 594.77 L676.64 595.46 L677.36 595.8 L678.44 595.8 L679.16 595.46 L679.88 594.77 M682.57 591 L682.57 595.8 M682.57 592.37 L683.65 591.34 L684.37 591 L685.45 591 L686.17 591.34 L686.53 592.37 L686.53 595.8 M686.53 592.37 L687.61 591.34 L688.33 591 L689.41 591 L690.13 591.34 L690.49 592.37 L690.49 595.8 M693.66 588.6 L693.66 595.8 M693.66 592.03 L694.38 591.34 L695.1 591 L696.18 591 L696.9 591.34 L697.62 592.03 L697.98 593.06 L697.98 593.74 L697.62 594.77 L696.9 595.46 L696.18 595.8 L695.1 595.8 L694.38 595.46 L693.66 594.77 M700.68 588.6 L700.68 595.8 M703.28 593.06 L707.6 593.06 L707.6 592.37 L707.24 591.69 L706.88 591.34 L706.16 591 L705.08 591 L704.36 591.34 L703.64 592.03 L703.28 593.06 L703.28 593.74 L703.64 594.77 L704.36 595.46 L705.08 595.8 L706.16 595.8 L706.88 595.46 L707.6 594.77 M716.2 588.6 L716.2 595.8 M716.2 588.6 L719.08 595.8 M721.96 588.6 L719.08 595.8 M721.96 588.6 L721.96 595.8 M724.71 593.06 L729.03 593.06 L729.03 592.37 L728.67 591.69 L728.31 591.34 L727.59 591 L726.51 591 L725.79 591.34 L725.07 592.03 L724.71 593.06 L724.71 593.74 L725.07 594.77 L725.79 595.46 L726.51 595.8 L727.59 595.8 L728.31 595.46 L729.03 594.77 M735.68 591 L735.68 595.8 M735.68 592.03 L734.96 591.34 L734.24 591 L733.16 591 L732.44 591.34 L731.72 592.03 L731.36 593.06 L731.36 593.74 L731.72 594.77 L732.44 595.46 L733.16 595.8 L734.24 595.8 L734.96 595.46 L735.68 594.77 M738.74 591 L738.74 595.8 M738.74 592.37 L739.82 591.34 L740.54 591 L741.62 591 L742.34 591.34 L742.7 592.37 L742.7 595.8" fill="none" stroke="#000" stroke-width="1.25" stroke-linecap="round" stroke-linejoin="round"/>
</svg></body></html>
